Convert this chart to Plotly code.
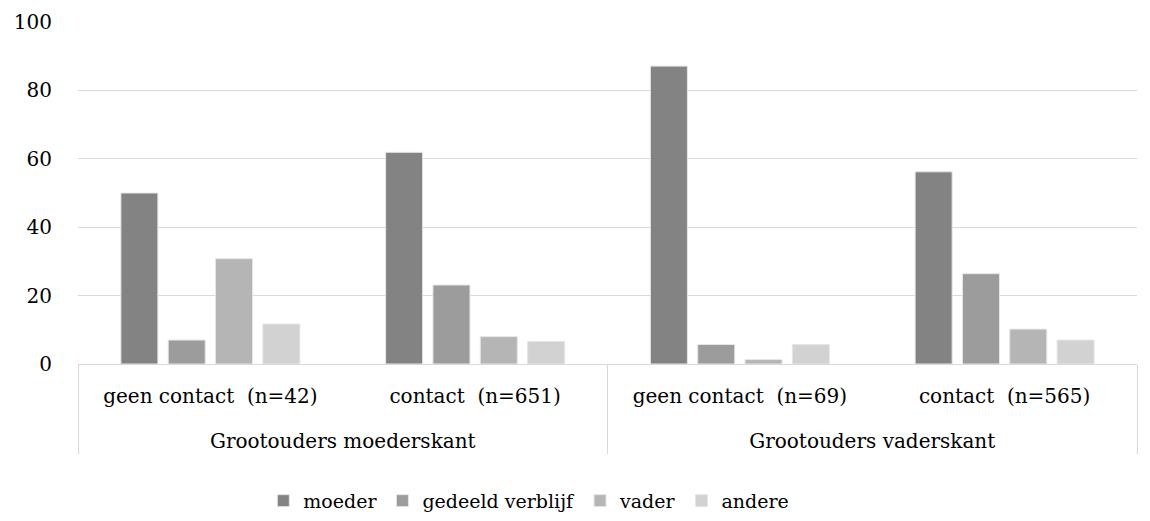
import plotly.graph_objects as go

outer = ["Grootouders moederskant", "Grootouders moederskant",
         "Grootouders vaderskant", "Grootouders vaderskant"]
pad = "<br><span style='font-size:49px'>\u00a0</span>"
inner = ["geen contact\u00a0 (n=42)" + pad, "contact\u00a0 (n=651)" + pad,
         "geen contact\u00a0 (n=69)" + pad, "contact\u00a0 (n=565)" + pad]

moeder = [50.0, 61.9, 87.1, 56.2]
gedeeld = [7.0, 23.1, 5.7, 26.4]
vader = [30.8, 8.0, 1.3, 10.2]
andere = [11.7, 6.6, 5.7, 7.0]

series = [("moeder", moeder, "#838383"),
          ("gedeeld verblijf", gedeeld, "#9c9c9c"),
          ("vader", vader, "#b5b5b5"),
          ("andere", andere, "#d2d2d2")]

FONT = "DejaVu Serif"

fig = go.Figure()
for name, vals, col in series:
    fig.add_trace(go.Bar(x=[outer, inner], y=vals, name=name,
                         marker=dict(color=col, line=dict(color="#e6e6e6", width=1))))

fig.update_layout(
    width=1150, height=521,
    margin=dict(l=70, r=21, t=14, b=165, autoexpand=False),
    paper_bgcolor="white", plot_bgcolor="white",
    barmode="group", bargap=0.285, bargroupgap=0.218,
    font=dict(family=FONT, size=20, color="#000000"),
    showlegend=True,
    legend=dict(orientation="h", x=0.175, xanchor="left", y=-0.40, yanchor="middle",
                font=dict(size=19), itemwidth=30, traceorder="normal"),
)
fig.update_yaxes(range=[0, 100], dtick=20, showgrid=True, gridcolor="#d9d9d9", gridwidth=1.3,
                 zeroline=False, showline=False, ticks="", ticklabelstandoff=25,
                 automargin=False)
fig.update_xaxes(type="multicategory", showline=True, linecolor="#d9d9d9", linewidth=1.3,
                 showdividers=True, dividercolor="#d9d9d9", dividerwidth=1.3,
                 ticks="", ticklabelstandoff=14, automargin=False)

fig.write_html("out.html")
